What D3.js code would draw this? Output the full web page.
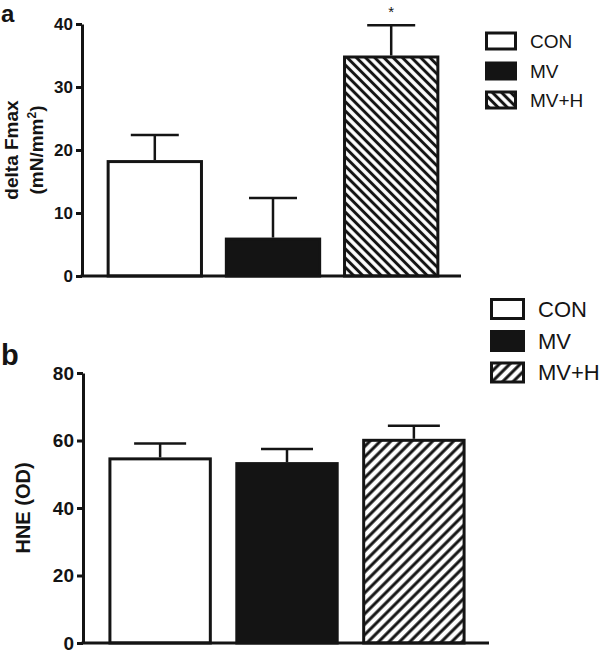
<!DOCTYPE html>
<html>
<head>
<meta charset="utf-8">
<script src="https://cdn.jsdelivr.net/npm/d3@7"></script>
<style>
  html, body { margin: 0; padding: 0; background: #fff; }
  svg { display: block; font-family: "Liberation Sans", Arial, Helvetica, sans-serif; }
</style>
</head>
<body>
<svg id="chart" width="600" height="654"></svg>
<script>
// ---- data ----
const categories = ["CON", "MV", "MV+H"];
const fmaxMeans = [18.4, 6.1, 35.0];
const fmaxErrors = [4.0, 6.3, 4.8];
const fmaxSignif = ["", "", "*"];
const hneMeans = [55.0, 53.6, 60.5];
const hneErrors = [4.1, 3.9, 3.9];
const hneSignif = ["", "", ""];
const fmaxTicks = [0, 10, 20, 30, 40];
const hneTicks = [0, 20, 40, 60, 80];

const INK = "#141414";
const svg = d3.select("#chart");
const defs = svg.append("defs");

function hatch(id, angle, spacing, width) {
  const p = defs.append("pattern")
    .attr("id", id)
    .attr("patternUnits", "userSpaceOnUse")
    .attr("width", spacing).attr("height", spacing)
    .attr("patternTransform", `rotate(${angle})`);
  p.append("rect").attr("width", spacing).attr("height", spacing).attr("fill", "#fff");
  p.append("line").attr("x1", spacing / 2).attr("x2", spacing / 2)
    .attr("y1", -1).attr("y2", spacing + 1)
    .attr("stroke", INK).attr("stroke-width", width);
}
hatch("hatchA", -45, 6.5, 3);
hatch("hatchB", 45, 7.4, 3);

function panel(cfg) {
  const g = svg.append("g");
  const y = d3.scaleLinear().domain([cfg.ticks[0], cfg.ticks[cfg.ticks.length - 1]]).range([cfg.y0, cfg.y1]);
  const x = d3.scaleBand().domain(categories).range(cfg.band).paddingInner(0.185).paddingOuter(0.09);
  const fills = ["#fff", INK, `url(#${cfg.hatch})`];

  // bars
  g.selectAll("rect.bar").data(categories).join("rect")
    .attr("class", "bar")
    .attr("x", d => x(d) + 1.5)
    .attr("width", x.bandwidth() - 3)
    .attr("y", (d, i) => y(cfg.means[i]) + 1.5)
    .attr("height", (d, i) => y(0) - y(cfg.means[i]) - 1.5)
    .attr("fill", (d, i) => fills[i])
    .attr("stroke", INK).attr("stroke-width", 3);

  // error bars
  const eb = g.selectAll("g.err").data(categories).join("g").attr("class", "err");
  eb.append("line")
    .attr("x1", d => x(d) + x.bandwidth() / 2).attr("x2", d => x(d) + x.bandwidth() / 2)
    .attr("y1", (d, i) => y(cfg.means[i]))
    .attr("y2", (d, i) => y(cfg.means[i] + cfg.errs[i]))
    .attr("stroke", INK).attr("stroke-width", 2.5);
  eb.append("line")
    .attr("x1", d => x(d) + x.bandwidth() / 2 - cfg.cap / 2)
    .attr("x2", d => x(d) + x.bandwidth() / 2 + cfg.cap / 2)
    .attr("y1", (d, i) => y(cfg.means[i] + cfg.errs[i]))
    .attr("y2", (d, i) => y(cfg.means[i] + cfg.errs[i]))
    .attr("stroke", INK).attr("stroke-width", 2.5);
  eb.append("text")
    .attr("x", d => x(d) + x.bandwidth() / 2)
    .attr("y", (d, i) => y(cfg.means[i] + cfg.errs[i]) - 8)
    .attr("text-anchor", "middle")
    .attr("font-size", 15).attr("fill", INK)
    .text((d, i) => cfg.signif[i]);

  // y axis
  const ax = g.append("g").attr("transform", `translate(${cfg.axisX},0)`)
    .call(d3.axisLeft(y).tickValues(cfg.ticks).tickSize(6).tickSizeOuter(0).tickPadding(3));
  ax.select(".domain").attr("stroke", INK).attr("stroke-width", 3);
  ax.selectAll(".tick line").attr("stroke", INK).attr("stroke-width", 3);
  ax.selectAll(".tick text").attr("fill", INK)
    .attr("font-family", "'Liberation Sans', Arial, sans-serif")
    .attr("font-weight", "bold").attr("font-size", cfg.tickFont);

  // x axis baseline
  g.append("line")
    .attr("x1", cfg.axisX - 1.5).attr("x2", cfg.axisEnd)
    .attr("y1", y(0)).attr("y2", y(0))
    .attr("stroke", INK).attr("stroke-width", 3);

  // legend
  const lg = g.append("g");
  categories.forEach((c, i) => {
    const cy = cfg.legY[i];
    lg.append("rect")
      .attr("x", cfg.legX + 1.5).attr("y", cy - cfg.legH / 2 + 1.5)
      .attr("width", cfg.legW - 3).attr("height", cfg.legH - 3)
      .attr("fill", fills[i]).attr("stroke", INK).attr("stroke-width", 3);
    lg.append("text")
      .attr("x", cfg.legX + cfg.legW + 13).attr("y", cy)
      .attr("dy", "0.36em")
      .attr("font-size", cfg.legFont).attr("fill", INK)
      .text(c);
  });

  // panel letter
  g.append("text").attr("x", 1).attr("y", cfg.letterY)
    .attr("font-size", cfg.letterFont).attr("font-weight", "bold").attr("fill", INK)
    .text(cfg.letter);
  return { g, y };
}

const pa = panel({
  means: fmaxMeans, errs: fmaxErrors, signif: fmaxSignif, ticks: fmaxTicks,
  y0: 276, y1: 24, band: [96, 450], axisX: 82, axisEnd: 461,
  hatch: "hatchA", cap: 48, tickFont: 17,
  legX: 485, legW: 32, legH: 19, legY: [41, 71, 100], legFont: 19,
  letter: "a", letterY: 21.5, letterFont: 24
});
// y title panel a
const ta = svg.append("text")
  .attr("transform", "translate(18,150) rotate(-90)")
  .attr("text-anchor", "middle").attr("font-weight", "bold").attr("font-size", 19).attr("fill", INK);
ta.append("tspan").attr("x", 0).attr("y", 0).text("delta Fmax");
ta.append("tspan").attr("x", 0).attr("y", 25).text("(mN/mm");
ta.append("tspan").attr("font-size", 12).attr("dy", -7).text("2");
ta.append("tspan").attr("dy", 7).text(")");

const pb = panel({
  means: hneMeans, errs: hneErrors, signif: hneSignif, ticks: hneTicks,
  y0: 643, y1: 373, band: [97, 477], axisX: 83, axisEnd: 489,
  hatch: "hatchB", cap: 52, tickFont: 19,
  legX: 490, legW: 35, legH: 22, legY: [309, 341, 372.5], legFont: 22,
  letter: "b", letterY: 365, letterFont: 29
});
svg.append("text")
  .attr("transform", "translate(30,508) rotate(-90)")
  .attr("text-anchor", "middle").attr("font-weight", "bold").attr("font-size", 20).attr("fill", INK)
  .text("HNE (OD)");
</script>
</body>
</html>
